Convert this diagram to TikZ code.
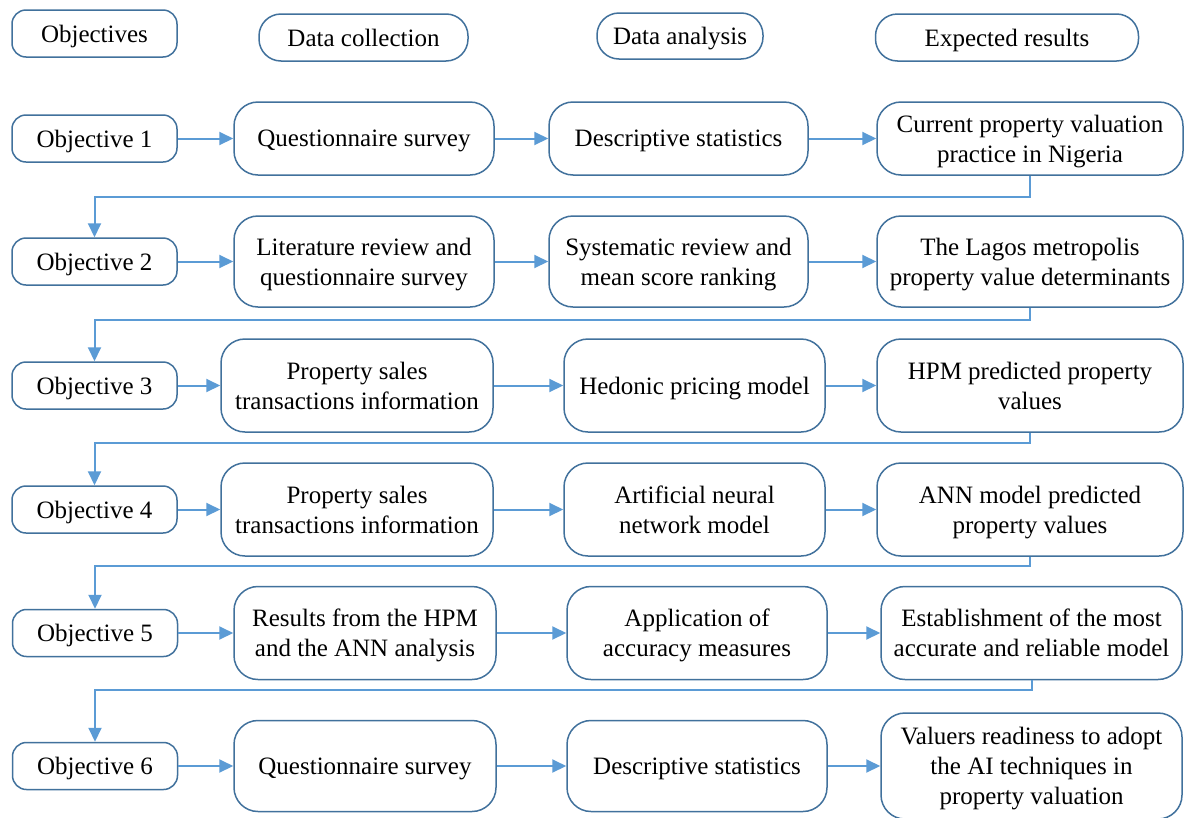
\documentclass[tikz,border=0pt]{standalone}
\usepackage{fontspec}
\setmainfont{Liberation Serif}
\usetikzlibrary{arrows.meta}
\definecolor{boxline}{HTML}{41719C}
\definecolor{flow}{HTML}{5B9BD5}

\begin{document}
\begin{tikzpicture}[x=1pt,y=-1pt,
  box/.style={draw=boxline, line width=1.5pt, fill=white, rounded corners=24pt,
    align=center, inner sep=0pt, text depth=0pt, font=\fontsize{25}{30}\selectfont},
  objbox/.style={box, rounded corners=14pt, minimum width=165pt, minimum height=47pt},
  headbox/.style={box, rounded corners=22pt, minimum height=47pt},
  flowarrow/.style={draw=flow, line width=2pt, -{Triangle[length=14pt,width=13pt]}},
]
% page frame
\fill[white] (0,0) rectangle (1186,817);
\useasboundingbox (0,0) rectangle (1186,817);

% column headings
\node[objbox] (h1) at (94.5,33.5) {Objectives};
\node[headbox, minimum width=209pt] (h2) at (363.5,37.5) {Data collection};
\node[headbox, minimum width=166pt, minimum height=46pt] (h3) at (680,36) {Data analysis};
\node[headbox, minimum width=263pt] (h4) at (1007,37.5) {Expected results};

% row 1
\node[objbox] (o1) at (94.5,138.5) {Objective 1};
\node[box, minimum width=260pt, minimum height=73pt] (c1) at (364,138.5) {Questionnaire survey};
\node[box, minimum width=259pt, minimum height=73pt] (a1) at (678.5,138.5) {Descriptive statistics};
\node[box, minimum width=306pt, minimum height=73pt] (r1) at (1030,138.5) {Current property valuation\\practice in Nigeria};

% row 2
\node[objbox] (o2) at (94.5,261.5) {Objective 2};
\node[box, minimum width=260pt, minimum height=91pt] (c2) at (364,261.5) {Literature review and\\questionnaire survey};
\node[box, minimum width=259pt, minimum height=91pt] (a2) at (678.5,261.5) {Systematic review and\\mean score ranking};
\node[box, minimum width=306pt, minimum height=91pt] (r2) at (1030,261.5) {The Lagos metropolis\\property value determinants};

% row 3
\node[objbox] (o3) at (94.5,385.5) {Objective 3};
\node[box, minimum width=272pt, minimum height=93pt] (c3) at (357,385.5) {Property sales\\transactions information};
\node[box, minimum width=261pt, minimum height=93pt] (a3) at (694.5,385.5) {Hedonic pricing model};
\node[box, minimum width=306pt, minimum height=93pt] (r3) at (1030,385.5) {HPM predicted property\\values};

% row 4
\node[objbox] (o4) at (94.5,509.5) {Objective 4};
\node[box, minimum width=272pt, minimum height=93pt] (c4) at (357,509.5) {Property sales\\transactions information};
\node[box, minimum width=261pt, minimum height=93pt] (a4) at (694.5,509.5) {Artificial neural\\network model};
\node[box, minimum width=306pt, minimum height=93pt] (r4) at (1030,509.5) {ANN model predicted\\property values};

% row 5
\node[objbox] (o5) at (95,633) {Objective 5};
\node[box, minimum width=262pt, minimum height=93pt] (c5) at (365,633) {Results from the HPM\\and the ANN analysis};
\node[box, minimum width=260pt, minimum height=93pt] (a5) at (697,633) {Application of\\accuracy measures};
\node[box, minimum width=301pt, minimum height=93pt] (r5) at (1031.5,633) {Establishment of the most\\accurate and reliable model};

% row 6
\node[objbox] (o6) at (95,766) {Objective 6};
\node[box, minimum width=262pt, minimum height=91pt] (c6) at (365,766) {Questionnaire survey};
\node[box, minimum width=260pt, minimum height=91pt] (a6) at (697,766) {Descriptive statistics};
\node[box, minimum width=301pt, minimum height=106pt] (r6) at (1031.5,766) {Valuers readiness to adopt\\the AI techniques in\\property valuation};

% levels of the return lines between rows
\coordinate (k1) at (0,197);
\coordinate (k2) at (0,320);
\coordinate (k3) at (0,443);
\coordinate (k4) at (0,566);
\coordinate (k5) at (0,690);

% arrows along each row
\foreach \i in {1,...,6} {
  \draw[flowarrow] (o\i.east) -- (c\i.west);
  \draw[flowarrow] (c\i.east) -- (a\i.west);
  \draw[flowarrow] (a\i.east) -- (r\i.west);
}

% return lines from each result to the next objective
\draw[flowarrow] (r1.south) -- (r1.south |- k1) -| (o2.north);
\draw[flowarrow] (r2.south) -- (r2.south |- k2) -| (o3.north);
\draw[flowarrow] (r3.south) -- (r3.south |- k3) -| (o4.north);
\draw[flowarrow] (r4.south) -- (r4.south |- k4) -| (o5.north);
\draw[flowarrow] (r5.south) -- (r5.south |- k5) -| (o6.north);
\end{tikzpicture}
\end{document}
